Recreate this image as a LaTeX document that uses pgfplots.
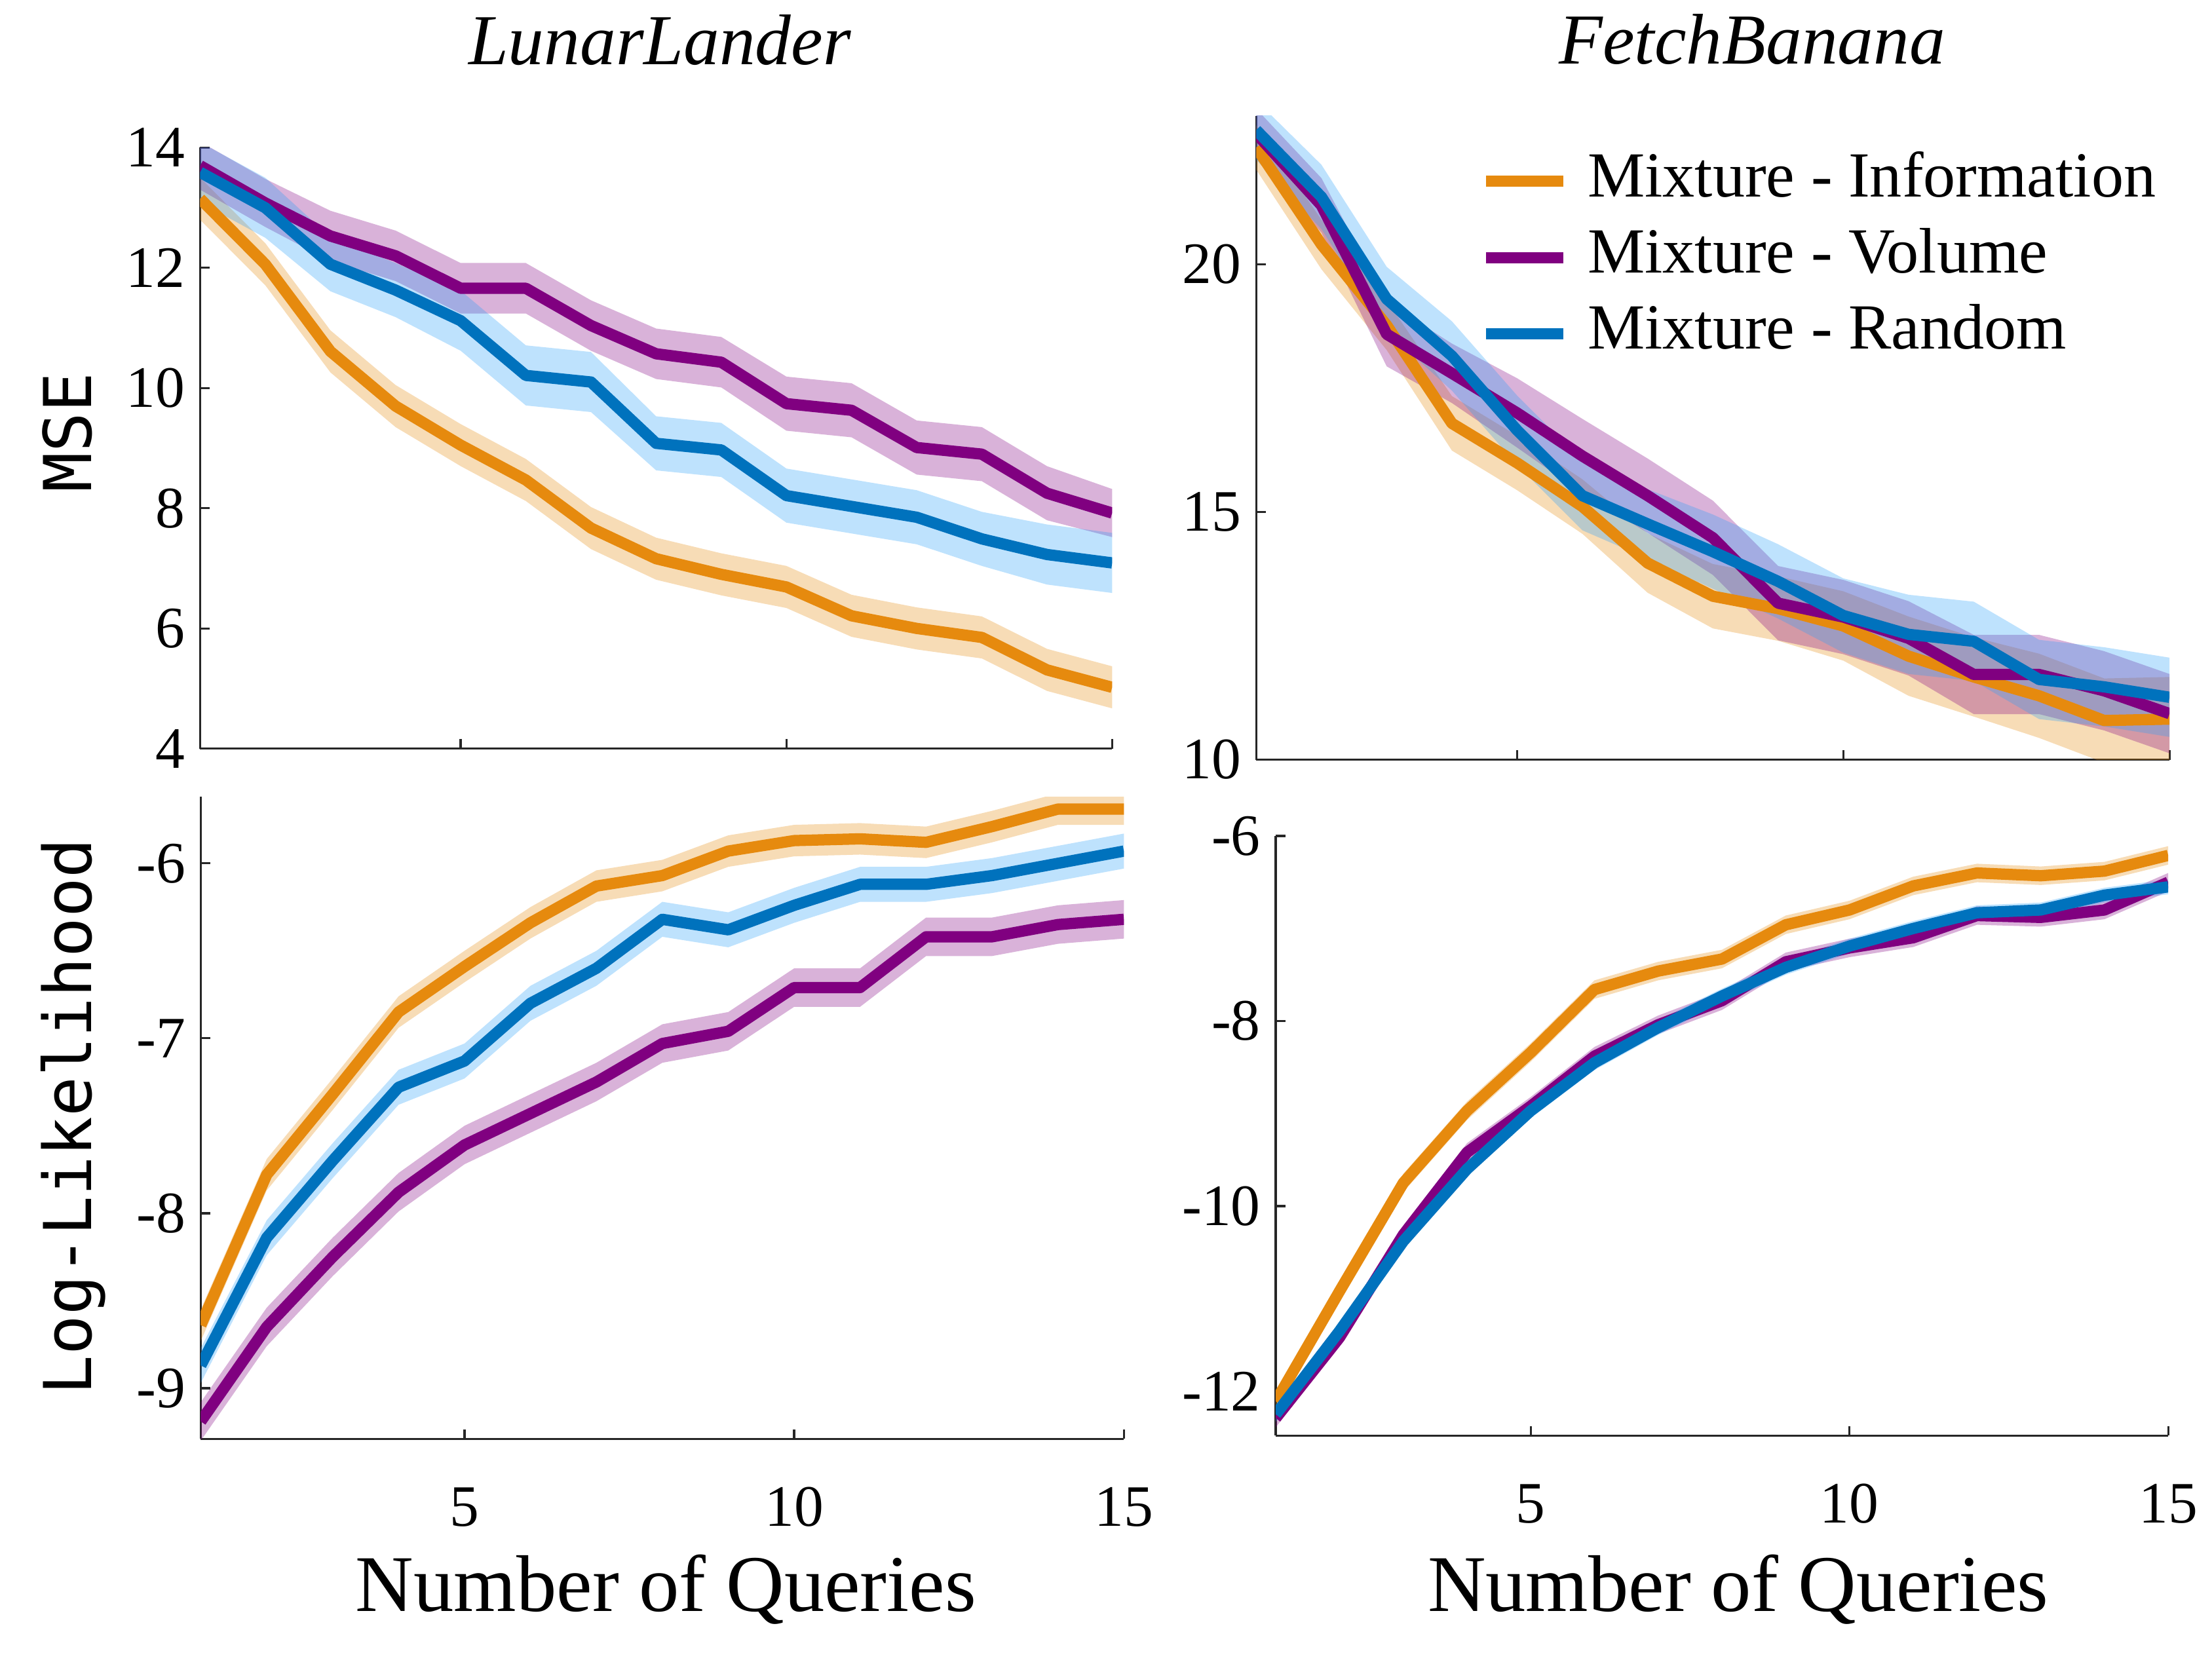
\documentclass[border=0pt]{standalone}
\usepackage{fontspec}
\setmainfont{Liberation Serif}
\newfontfamily\monofont{DejaVu Sans Mono}
\usepackage{pgfplots}
\usepackage{pgfplotstable}
\pgfplotsset{compat=1.18}
\usepgfplotslibrary{fillbetween}

\definecolor{cinfo}{RGB}{230,138,14}
\definecolor{cvol}{RGB}{128,0,128}
\definecolor{crand}{RGB}{0,114,189}
\definecolor{crandband}{RGB}{40,160,250}

% columns: query, info mean/err, volume mean/err, random mean/err
\pgfplotstableread{
x  oy    oe    py    pe    by    be
1  13.15 0.35  13.70 0.40  13.59 0.50
2  12.06 0.35  13.08 0.40  13.00 0.50
3  10.61 0.35  12.53 0.42  12.06 0.45
4  9.70  0.35  12.20 0.42  11.63 0.45
5  9.05  0.35  11.66 0.42  11.12 0.50
6  8.47  0.35  11.66 0.42  10.21 0.50
7  7.67  0.35  11.04 0.42  10.10 0.50
8  7.16  0.35  10.57 0.42  9.08  0.45
9  6.90  0.35  10.43 0.42  8.97  0.45
10 6.69  0.35  9.74  0.45  8.21  0.45
11 6.21  0.35  9.63  0.45  8.03  0.45
12 6.00  0.35  9.01  0.45  7.85  0.45
13 5.85  0.35  8.90  0.45  7.49  0.45
14 5.31  0.35  8.25  0.45  7.23  0.50
15 5.02  0.35  7.92  0.40  7.09  0.50
}\lunarmse

\pgfplotstableread{
x  oy    oe    py    pe    by    be
1  -8.64 0.09  -9.19 0.11  -8.87 0.10
2  -7.78 0.09  -8.65 0.11  -8.14 0.10
3  -7.32 0.09  -8.25 0.11  -7.70 0.10
4  -6.85 0.09  -7.88 0.11  -7.28 0.10
5  -6.59 0.09  -7.61 0.11  -7.13 0.10
6  -6.34 0.09  -7.43 0.11  -6.80 0.10
7  -6.13 0.09  -7.25 0.11  -6.60 0.10
8  -6.07 0.09  -7.03 0.11  -6.32 0.10
9  -5.93 0.09  -6.96 0.11  -6.38 0.10
10 -5.87 0.09  -6.71 0.11  -6.24 0.10
11 -5.86 0.09  -6.71 0.11  -6.12 0.10
12 -5.88 0.09  -6.42 0.11  -6.12 0.10
13 -5.79 0.09  -6.42 0.11  -6.07 0.10
14 -5.69 0.09  -6.35 0.11  -6.00 0.10
15 -5.69 0.09  -6.32 0.11  -5.93 0.10
}\lunarll

\pgfplotstableread{
x  oy    oe    py    pe    by    be
1  22.36 0.45  22.64 0.50  22.71 0.60
2  20.40 0.50  21.19 0.55  21.36 0.65
3  18.77 0.50  18.59 0.65  19.30 0.65
4  16.79 0.55  17.80 0.60  18.15 0.70
5  15.99 0.55  17.00 0.70  16.65 0.70
6  15.11 0.55  16.13 0.75  15.33 0.70
7  13.97 0.60  15.33 0.75  14.76 0.70
8  13.30 0.65  14.48 0.75  14.20 0.75
9  13.05 0.65  13.16 0.75  13.60 0.75
10 12.70 0.70  12.88 0.75  12.91 0.75
11 12.09 0.80  12.45 0.75  12.53 0.80
12 11.67 0.80  11.72 0.80  12.39 0.80
13 11.29 0.85  11.72 0.80  11.62 0.80
14 10.79 0.85  11.39 0.80  11.47 0.80
15 10.82 0.85  10.93 0.80  11.26 0.80
}\fetchmse

\pgfplotstableread{
x  oy     oe    py     pe    by     be
1  -12.11 0.10  -12.29 0.10  -12.25 0.08
2  -10.92 0.10  -11.42 0.10  -11.35 0.08
3  -9.75  0.10  -10.31 0.10  -10.38 0.08
4  -8.97  0.10  -9.42  0.10  -9.60  0.08
5  -8.34  0.10  -8.92  0.10  -8.97  0.08
6  -7.66  0.10  -8.38  0.10  -8.45  0.08
7  -7.46  0.10  -8.04  0.10  -8.07  0.08
8  -7.33  0.10  -7.78  0.10  -7.73  0.08
9  -6.96  0.10  -7.36  0.10  -7.42  0.08
10 -6.80  0.10  -7.21  0.10  -7.19  0.08
11 -6.54  0.10  -7.10  0.10  -7.00  0.08
12 -6.40  0.10  -6.86  0.10  -6.83  0.08
13 -6.43  0.10  -6.88  0.10  -6.80  0.08
14 -6.38  0.10  -6.80  0.10  -6.64  0.08
15 -6.21  0.10  -6.50  0.10  -6.55  0.08
}\fetchll

\pgfplotsset{
  panel/.style={
    scale only axis, anchor=south west,
    axis x line*=bottom, axis y line*=left,
    axis line style={draw=black!85, line width=0.5pt},
    tick align=inside, major tick length=2.2pt,
    tick style={draw=black!85, line width=0.5pt},
    xmin=1, xmax=15, xtick={5,10,15},
    /pgf/number format/assume math mode=true,
    ticklabel style={font=\fontsize{13.5}{16}\selectfont},
    xticklabel style={anchor=base, yshift=-20pt},
    xlabel style={anchor=base, font=\fontsize{18.5}{22}\selectfont},
    ylabel style={anchor=base, font=\monofont\fontsize{15.2}{18}\selectfont},
    title style={anchor=base, font=\itshape\fontsize{16.5}{20}\selectfont},
  },
  band/.style={draw=none, fill=#1, fill opacity=0.3, forget plot},
  curve/.style={draw=#1, line width=2.6pt, line join=round},
}

% shaded band: table, mean column, error column, colour
\newcommand\band[4]{%
  \addplot[draw=none, name path=u#2, forget plot] table[x=x, y expr=\thisrow{#2}+\thisrow{#3}]{#1};
  \addplot[draw=none, name path=l#2, forget plot] table[x=x, y expr=\thisrow{#2}-\thisrow{#3}]{#1};
  \addplot[band=#4] fill between[of=u#2 and l#2];
}
\newcommand\bands[1]{%
  \band{#1}{oy}{oe}{cinfo}
  \band{#1}{py}{pe}{cvol}
  \band{#1}{by}{be}{crandband}
}

\begin{document}
\begin{tikzpicture}

% LunarLander MSE
\begin{axis}[panel, at={(46.05pt,211.05pt)}, width=209.85pt, height=138.3pt,
    ymin=4, ymax=14, ytick={4,6,...,14}, xticklabels={},
    title={LunarLander}, title style={at={(axis description cs:0.504,1.0954)}},
    ylabel={MSE}, ylabel style={at={(axis description cs:-0.1194,0.526)}}]
  \bands{\lunarmse}
  \addplot[curve=cinfo] table[x=x, y=oy]{\lunarmse};
  \addplot[curve=cvol] table[x=x, y=py]{\lunarmse};
  \addplot[curve=crand] table[x=x, y=by]{\lunarmse};
\end{axis}

% LunarLander log-likelihood
\begin{axis}[panel, at={(46.2pt,52.2pt)}, width=212.4pt, height=147.75pt,
    ymin=-9.29, ymax=-5.62, ytick={-9,-8,-7,-6},
    xlabel={Number of Queries}, xlabel style={at={(axis description cs:0.504,-0.269)}},
    ylabel={Log-Likelihood}, ylabel style={at={(axis description cs:-0.1186,0.502)}}]
  \bands{\lunarll}
  \addplot[curve=cinfo] table[x=x, y=oy]{\lunarll};
  \addplot[curve=cvol] table[x=x, y=py]{\lunarll};
  \addplot[curve=crand] table[x=x, y=by]{\lunarll};
\end{axis}

% FetchBanana MSE
\begin{axis}[panel, at={(289.05pt,208.5pt)}, width=210.15pt, height=148.2pt,
    ymin=10, ymax=23, ytick={10,15,20}, xticklabels={},
    title={FetchBanana}, title style={at={(axis description cs:0.543,1.0395)}},
    legend cell align=left,
    legend image code/.code={%
      \draw[#1, line width=2.6pt] (0pt,0pt) -- (17.85pt,0pt);
      \path[draw=none, fill=none] (0pt,0pt) rectangle (23.4pt,0.1pt);},
    legend style={at={(axis description cs:0.2455,0.9453)}, anchor=north west,
      draw=none, fill=none, inner sep=0pt, outer sep=0pt,
      row sep=3.55pt, column sep=0pt,
      font=\fontsize{14.8}{17}\selectfont,
      nodes={inner xsep=0pt, inner ysep=0pt, outer sep=0pt,
             text height=10.5pt, text depth=3.5pt}}]
  \bands{\fetchmse}
  \addplot[curve=cinfo] table[x=x, y=oy]{\fetchmse};
  \addlegendentry{Mixture - Information}
  \addplot[curve=cvol] table[x=x, y=py]{\fetchmse};
  \addlegendentry{Mixture - Volume}
  \addplot[curve=crand] table[x=x, y=by]{\fetchmse};
  \addlegendentry{Mixture - Random}
\end{axis}

% FetchBanana log-likelihood
\begin{axis}[panel, at={(293.55pt,52.95pt)}, width=205.35pt, height=138pt,
    ymin=-12.48, ymax=-6, ytick={-12,-10,-8,-6},
    xlabel={Number of Queries}, xlabel style={at={(axis description cs:0.518,-0.293)}}]
  \bands{\fetchll}
  \addplot[curve=cinfo] table[x=x, y=oy]{\fetchll};
  \addplot[curve=cvol] table[x=x, y=py]{\fetchll};
  \addplot[curve=crand] table[x=x, y=by]{\fetchll};
\end{axis}

% page frame of the reference's size
\path (0,0) rectangle (506.4pt,383.25pt);
\end{tikzpicture}
\end{document}
